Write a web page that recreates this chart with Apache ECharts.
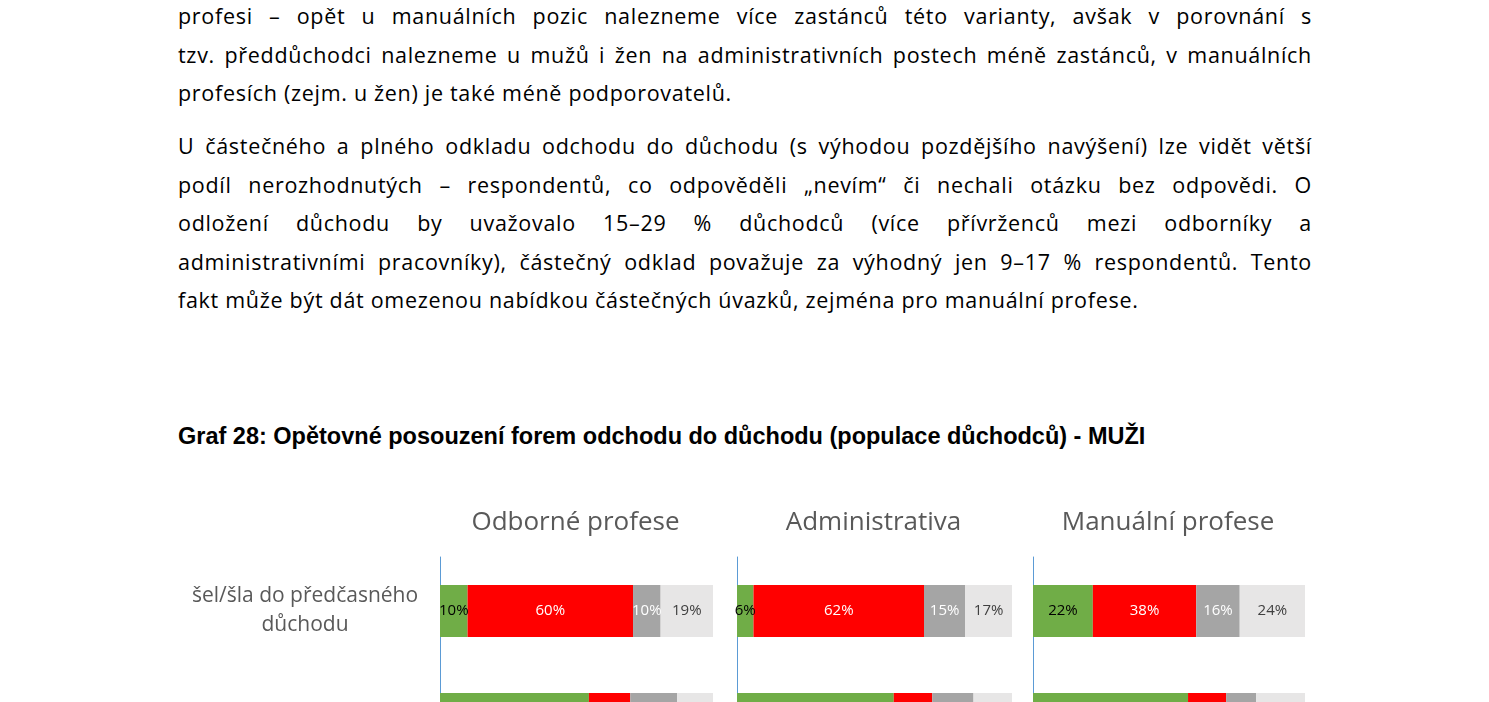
<!DOCTYPE html>
<html lang="cs">
<head>
<meta charset="UTF-8">
<title>Graf 28</title>
<style>
    body{margin:0;overflow:hidden;background:#fff;width:1489px;height:702px;position:relative;}
    .txt{position:absolute;left:178px;width:1134px;font-family:"Open Sans",sans-serif;font-size:21.5px;letter-spacing:0.7px;color:#000;}
    .ln{height:38.5px;line-height:38.5px;text-align:justify;text-align-last:justify;white-space:nowrap;}
    .ln.last{text-align-last:left;}
    #title{position:absolute;left:178px;top:423px;font-family:"Liberation Sans",Arial,sans-serif;font-weight:bold;font-size:23.5px;}
    #chart{position:absolute;left:0;top:490px;width:1489px;height:400px;}
</style>
</head>
<body>
<div class="txt" style="top:-3px">
    <div class="ln">profesi – opět u manuálních pozic nalezneme více zastánců této varianty, avšak v porovnání s</div>
    <div class="ln">tzv. předdůchodci nalezneme u mužů i žen na administrativních postech méně zastánců, v manuálních</div>
    <div class="ln last">profesích (zejm. u žen) je také méně podporovatelů.</div>
</div>
<div class="txt" style="top:127px">
    <div class="ln">U částečného a plného odkladu odchodu do důchodu (s výhodou pozdějšího navýšení) lze vidět větší</div>
    <div class="ln">podíl nerozhodnutých – respondentů, co odpověděli „nevím“ či nechali otázku bez odpovědi. O</div>
    <div class="ln">odložení důchodu by uvažovalo 15–29 % důchodců (více přívrženců mezi odborníky a</div>
    <div class="ln">administrativními pracovníky), částečný odklad považuje za výhodný jen 9–17 % respondentů. Tento</div>
    <div class="ln last">fakt může být dát omezenou nabídkou částečných úvazků, zejména pro manuální profese.</div>
</div>
<div id="title">Graf 28: Opětovné posouzení forem odchodu do důchodu (populace důchodců) - MUŽI</div>
<div id="chart"></div>
<script src="https://cdn.jsdelivr.net/npm/echarts@6/dist/echarts.min.js"></script>
<script>
    var categories = ['šel/šla do předčasného\ndůchodu', 'plně odložil/a důchod'];
    var groups = ['Odborné profese', 'Administrativa', 'Manuální profese'];
    var answers = ['ano', 'ne', 'nevím', 'bez odpovědi'];
    // hodnoty v %, [skupina][odpověď][kategorie]
    var odborne = [[10, 54], [60, 15], [10, 17], [19, 14]];
    var administrativa = [[6, 57], [62, 14], [15, 15], [17, 14]];
    var manualni = [[22, 57], [38, 14], [16, 11], [24, 18]];
    var groupData = [odborne, administrativa, manualni];

    var colors = ['#70AD47', '#FF0000', '#A5A5A5', '#E7E6E6'];
    var labelColors = ['#000', '#fff', '#fff', '#404040'];
    var gridPos = [[440, 273], [737, 275], [1033, 272]];

    var chart = echarts.init(document.getElementById('chart'));
    var grids = [], xAxes = [], yAxes = [], titles = [], series = [];
    gridPos.forEach(function (g, i) {
        grids.push({left: g[0], width: g[1], top: 67, height: 216});
        titles.push({
            text: groups[i], left: g[0] + g[1] / 2 - 6, top: 15, textAlign: 'center',
            textStyle: {color: '#595959', fontSize: 26, fontWeight: 'normal', fontFamily: 'Open Sans'}
        });
        var total = groupData[i].reduce(function (s, a) { return s + a[0]; }, 0);
        xAxes.push({gridIndex: i, type: 'value', min: 0, max: total, show: false});
        yAxes.push({
            gridIndex: i, type: 'category', data: categories, inverse: true,
            axisLine: {lineStyle: {color: '#5B9BD5', width: 1}}, axisTick: {show: false},
            axisLabel: {
                show: i === 0, color: '#595959', fontSize: 21, lineHeight: 29,
                fontFamily: 'Open Sans', margin: 135, align: 'center'
            }
        });
        answers.forEach(function (a, k) {
            series.push({
                name: a, type: 'bar', stack: 'g' + i, xAxisIndex: i, yAxisIndex: i,
                barWidth: 52, data: groupData[i][k],
                itemStyle: {color: colors[k]},
                label: {
                    show: true, position: 'inside', formatter: '{c}%',
                    color: labelColors[k], fontSize: 15, fontFamily: 'Open Sans'
                }
            });
        });
    });
    chart.setOption({
        animation: false,
        title: titles, grid: grids, xAxis: xAxes, yAxis: yAxes, series: series
    });
</script>
</body>
</html>
